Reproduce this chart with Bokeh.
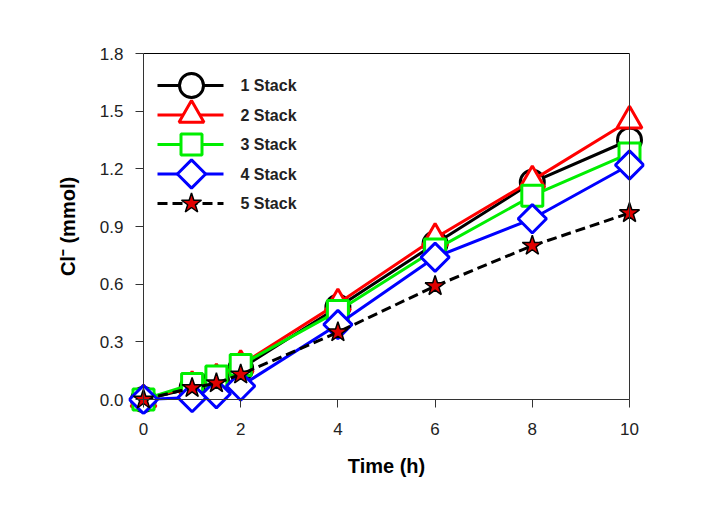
from bokeh.plotting import figure
from bokeh.models import FixedTicker, Range1d, NumeralTickFormatter, LinearAxis, CustomLabelingPolicy
from bokeh.core.properties import value
from bokeh.embed import file_html
from bokeh.resources import INLINE
import math

# ---------------- data ----------------
time_h = [0, 1, 1.5, 2, 4, 6, 8, 10]
stack1 = [0.0, 0.06, 0.10, 0.16, 0.48, 0.81, 1.13, 1.35]
stack2 = [0.0, 0.07, 0.11, 0.18, 0.50, 0.84, 1.14, 1.45]
stack3 = [0.0, 0.08, 0.12, 0.18, 0.46, 0.78, 1.06, 1.28]
stack4 = [0.0, 0.01, 0.03, 0.07, 0.39, 0.74, 0.94, 1.22]
stack5 = [0.0, 0.06, 0.085, 0.13, 0.35, 0.59, 0.80, 0.97]
series_labels = ["1 Stack", "2 Stack", "3 Stack", "4 Stack", "5 Stack"]
x_ticks = [0, 2, 4, 6, 8, 10]
y_ticks = [0.0, 0.3, 0.6, 0.9, 1.2, 1.5, 1.8]

# ---------------- layout ----------------
X0, X1 = 0, 10
Y0, Y1 = 0, 1.8
AXW, AXH = 486, 346          # pixel size of the 0..10 x 0..1.8 box
PAD = 15                     # room so markers on the box edge are not clipped
XPAD = PAD / AXW * (X1 - X0)
YPAD = PAD / AXH * (Y1 - Y0)

p = figure(frame_width=AXW + 2 * PAD, frame_height=AXH + 2 * PAD,
           min_border_left=128, min_border_right=67,
           min_border_top=38, min_border_bottom=78,
           x_range=Range1d(X0 - XPAD, X1 + XPAD), y_range=Range1d(Y0 - YPAD, Y1 + YPAD),
           output_backend="svg", toolbar_location=None,
           x_axis_location=None, y_axis_location=None,
           background_fill_color="white", border_fill_color="white")
p.grid.visible = False
p.outline_line_color = None

LINE_COL = "#333333"

NO_LABELS = CustomLabelingPolicy(code="""
for (const i of indices) { indices.unset(i) }
return indices
""")

def hide_labels(ax):
    ax.major_label_policy = NO_LABELS
    ax.minor_tick_line_color = None

# --- axis lines and ticks, pinned to the 0..10 / 0..1.8 box ---
x_line = LinearAxis(fixed_location=Y0, bounds=(X0, X1), ticker=FixedTicker(ticks=x_ticks))
hide_labels(x_line)
x_line.axis_line_color = LINE_COL
x_line.major_tick_line_color = LINE_COL
x_line.major_tick_in = 8
x_line.major_tick_out = 0
p.add_layout(x_line, "above")

y_line = LinearAxis(fixed_location=X0, bounds=(Y0, Y1), ticker=FixedTicker(ticks=y_ticks))
hide_labels(y_line)
y_line.axis_line_color = LINE_COL
y_line.major_tick_line_color = LINE_COL
y_line.major_tick_in = 8
y_line.major_tick_out = 0
p.add_layout(y_line, "right")

top_line = LinearAxis(fixed_location=Y1, bounds=(X0, X1), ticker=FixedTicker(ticks=[]))
hide_labels(top_line)
top_line.axis_line_color = "black"
top_line.major_tick_line_color = None
p.add_layout(top_line, "above")

right_line = LinearAxis(fixed_location=X1, bounds=(Y0, Y1), ticker=FixedTicker(ticks=[]))
hide_labels(right_line)
right_line.axis_line_color = LINE_COL
right_line.major_tick_line_color = None
p.add_layout(right_line, "right")

# --- tick labels and axis titles ---
def style_labels(ax):
    ax.axis_line_color = None
    ax.major_tick_line_color = None
    ax.minor_tick_line_color = None
    ax.major_tick_out = 0
    ax.major_tick_in = 0
    ax.major_label_text_font = "Liberation Sans"
    ax.major_label_text_font_size = "17px"
    ax.major_label_text_color = "#222222"
    ax.axis_label_text_font = "Liberation Sans"
    ax.axis_label_text_font_size = "20px"
    ax.axis_label_text_font_style = "bold"
    ax.axis_label_text_color = "black"

xaxis = LinearAxis(ticker=FixedTicker(ticks=x_ticks), axis_label="Time (h)")
style_labels(xaxis)
xaxis.major_label_standoff = 8
xaxis.axis_label_standoff = 17
p.add_layout(xaxis, "below")

yaxis = LinearAxis(ticker=FixedTicker(ticks=y_ticks), formatter=NumeralTickFormatter(format="0.0"),
                   axis_label="Cl\u207b (mmol)")
style_labels(yaxis)
yaxis.major_label_standoff = 5
yaxis.axis_label_standoff = 18
p.add_layout(yaxis, "left")

styles = [
    dict(data=stack1, color="black", marker="circle", size=24, angle=0, fill="white", mlc="black", mlw=3, dash="solid"),
    dict(data=stack2, color="#ff0000", marker="triangle", size=25, angle=0, fill="white", mlc="#ff0000", mlw=3, dash="solid"),
    dict(data=stack3, color="#00ee00", marker="square", size=21, angle=0, fill="white", mlc="#00ee00", mlw=3, dash="solid"),
    dict(data=stack4, color="#0000ff", marker="square", size=20, angle=math.pi / 4, fill="white", mlc="#0000ff", mlw=3, dash="solid"),
    dict(data=stack5, color="black", marker="star", size=21, angle=0, fill="#e00000", mlc="black", mlw=1.5, dash="10 5"),
]

for s in styles:
    p.line(time_h, s["data"], line_color=s["color"], line_width=3, line_dash=s["dash"])
    p.scatter(time_h, s["data"], marker=s["marker"], size=s["size"], angle=s["angle"],
              fill_color=s["fill"], line_color=s["mlc"], line_width=s["mlw"])

# ---------------- legend (drawn manually so markers keep their size) ----------------
def px_x(px):
    return X0 + px / AXW * (X1 - X0)

def px_y(py):
    return Y1 - py / AXH * (Y1 - Y0)

LEG_LINE_X0, LEG_LINE_X1, LEG_MARK_X, LEG_TEXT_X = 14, 80, 48, 97
LEG_ROW0, LEG_ROW_STEP = 32, 29.5

for i, (s, lab) in enumerate(zip(styles, series_labels)):
    yy = px_y(LEG_ROW0 + i * LEG_ROW_STEP)
    p.line([px_x(LEG_LINE_X0), px_x(LEG_LINE_X1)], [yy, yy], line_color=s["color"],
           line_width=3, line_dash=s["dash"])
    p.scatter([px_x(LEG_MARK_X)], [yy], marker=s["marker"], size=s["size"], angle=s["angle"],
              fill_color=s["fill"], line_color=s["mlc"], line_width=s["mlw"])
    p.text([px_x(LEG_TEXT_X)], [yy], text=[lab], text_font=value("Liberation Sans"),
           text_font_size="16px", text_font_style="bold", text_color="#222222",
           text_baseline="middle", text_align="left")

open("out.html", "w").write(file_html(p, INLINE))
